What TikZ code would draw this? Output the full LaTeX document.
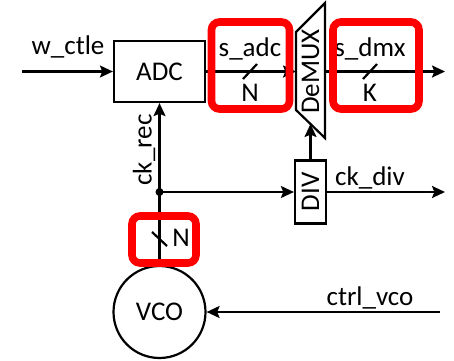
\documentclass[tikz,border=0pt]{standalone}
\usepackage{fontspec}
\usepackage{graphicx}
\setmainfont{Carlito}
\usetikzlibrary{arrows.meta,calc}

\begin{document}
\begin{tikzpicture}[x=0.5pt,y=-0.5pt,line width=1.1pt,>={Stealth[length=6.5pt,width=6pt,inset=1.2pt]},
  font=\fontsize{13.5}{15}\selectfont,
  blk/.style={draw, inner sep=0pt},
  hl/.style={draw=red, line width=3.8pt, rounded corners=4pt}]
  \useasboundingbox (0,0) rectangle (454,360);
  % blocks
  \node[blk, minimum width=45.5pt, minimum height=30.5pt] (adc) at (159.5,71.5) {ADC};
  \draw (296,32) -- (325,3) -- (325,138) -- (296,110) -- cycle;
  \node[rotate=90] (dmx) at (310.5,71.5) {DeMUX};
  \node[blk, minimum width=15.5pt, minimum height=31.5pt] (div) at (310.5,192) {\rotatebox{90}{DIV}};
  \node[draw, circle, minimum size=46pt, inner sep=0pt] (vco) at (159.5,312) {VCO};
  \coordinate (dmxl) at (296,71.5);
  \coordinate (dmxr) at (325,71.5);
  \coordinate (dmxb) at (310.5,124);
  \coordinate (in) at (22,71.5);
  \coordinate (out) at (445,71.5);
  \coordinate (ck) at (159.5,192);
  \coordinate (ckout) at (445,192);
  \coordinate (vin) at (440,312);
  % connectors
  \draw[->] (in) -- (adc.west);
  \draw[->] (adc.east) -- (dmxl);
  \draw[->] (dmxr) -- (out);
  \draw[->] (vco.north) -- (adc.south);
  \fill (ck) circle (2pt);
  \draw[->] (ck) -- (div.west);
  \draw[->] (div.north) -- (dmxb);
  \draw[->] (div.east) -- (ckout);
  \draw[->] (vin) -- (vco.east);
  % bus widths
  \draw (243,79) -- (257,64);
  \draw (363,79) -- (377,64);
  \draw (152,232) -- (167,246);
  % labels
  \node (lin) at (68,47) {w\_ctle};
  \node (ladc) at (250,49) {s\_adc};
  \node (nadc) at (250,93) {N};
  \node (ldmx) at (370,49) {s\_dmx};
  \node (kdmx) at (370,93) {K};
  \node[rotate=90] (lrec) at (144,150) {ck\_rec};
  \node (ldiv) at (370,178) {ck\_div};
  \node (nvco) at (181,238) {N};
  \node (lvco) at (370,298) {ctrl\_vco};
  % highlights
  \draw[hl] (211.5,22) rectangle (289.5,109);
  \draw[hl] (333,22) rectangle (419,109);
  \draw[hl] (132,216) rectangle (196,263);
\end{tikzpicture}
\end{document}
